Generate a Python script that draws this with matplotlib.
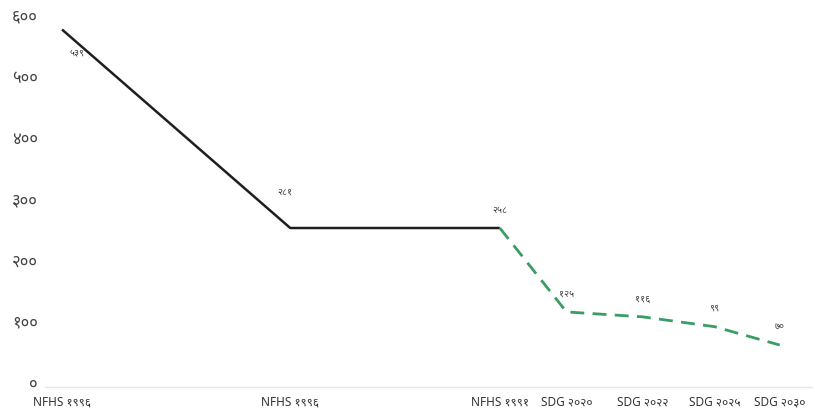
import matplotlib
matplotlib.use("Agg")
import matplotlib.pyplot as plt

plt.rcParams["font.family"] = ["Noto Sans", "DejaVu Sans", "Lato"]

# x slots (uneven spacing), y values
categories = ["NFHS १९९६", "NFHS १९९६", "NFHS १९९१", "SDG २०२०", "SDG २०२२", "SDG २०२५", "SDG २०३०"]
x_slot = [0, 3.18, 6.1, 7.03, 8.09, 9.09, 10.0]
values = [577, 253, 253, 116, 108, 92, 62]
value_labels = ["५३९", "२८१", "२५८", "१२५", "११६", "९९", "७०"]
y_ticks = [0, 100, 200, 300, 400, 500, 600]
y_tick_labels = ["०", "१००", "२००", "३००", "४००", "५००", "६००"]

fig = plt.figure(figsize=(8.15, 4.13), dpi=100)
ax = fig.add_axes([45 / 815, 1 - 387 / 413, 767 / 815, 382 / 413])

# survey part: solid black, target part: dashed green
ax.plot(x_slot[:3], values[:3], color="#1e1e1e", lw=1.8, solid_capstyle="butt")
ax.plot(x_slot[2:], values[2:], color="#3a9d63", lw=2, dashes=(5, 3))

offsets = [(11, -17), (-4, 26)] + [(0, 13)] * 5
for xv, yv, txt, off in zip(x_slot, values, value_labels, offsets):
    ax.annotate(txt, (xv, yv), xytext=off, textcoords="offset points",
                ha="center", va="center", fontsize=7, color="#444444")

ax.set_xlim(-0.237, 10.45)
ax.set_ylim(-6.5, 617)
ax.set_xticks(x_slot)
ax.set_xticklabels(categories, fontsize=8.5, color="#333333")
ax.set_yticks(y_ticks)
ax.set_yticklabels(y_tick_labels, fontsize=12, color="#444444")
ax.tick_params(axis="x", length=0, pad=6)
ax.tick_params(axis="y", length=0, pad=5)

for side in ["top", "right", "left"]:
    ax.spines[side].set_visible(False)
ax.spines["bottom"].set_color("#e6e6e6")
ax.spines["bottom"].set_linewidth(1)

fig.savefig("out.png", dpi=100)
